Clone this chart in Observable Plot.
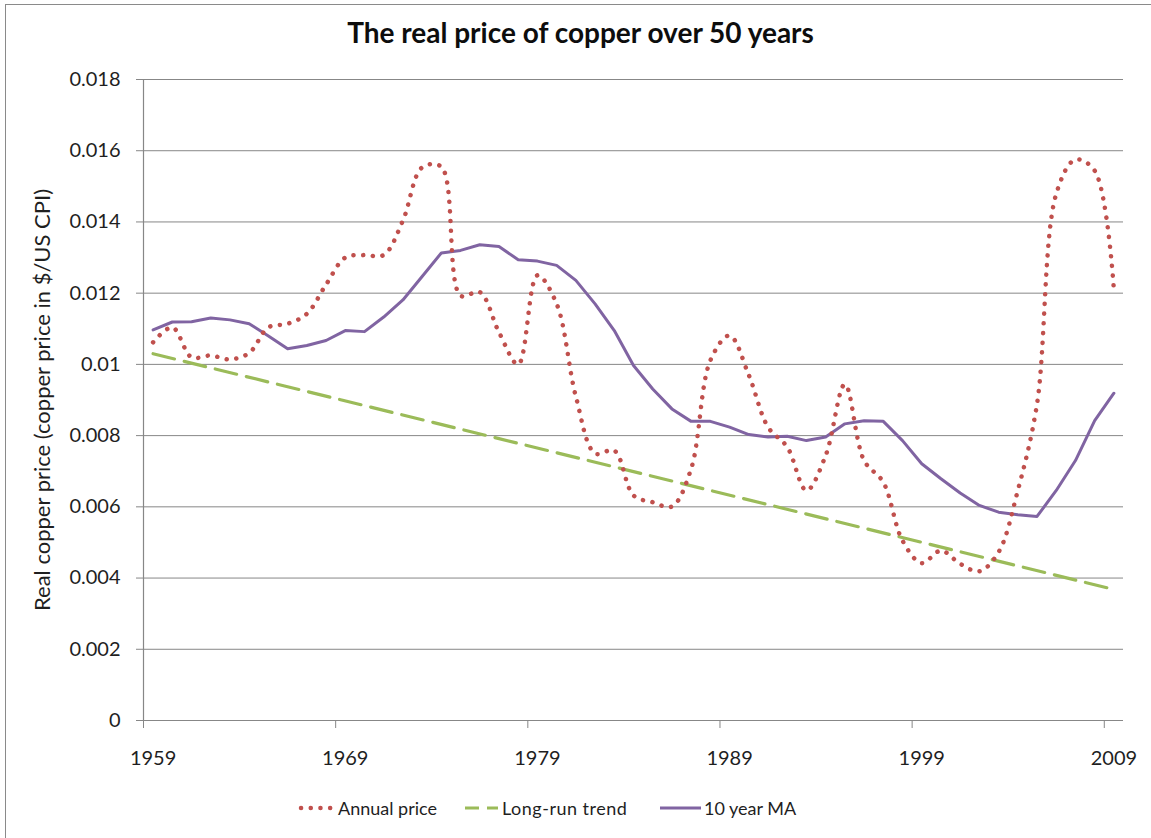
<!DOCTYPE html>
<html>
<head>
<meta charset="utf-8">
<script src="https://cdn.jsdelivr.net/npm/d3@7"></script>
<script src="https://cdn.jsdelivr.net/npm/@observablehq/plot@0.6"></script>
<style>
  html, body { margin: 0; padding: 0; background: #fff; }
  body { width: 1151px; height: 838px; position: relative; overflow: hidden; font-family: Lato, "Open Sans", sans-serif; color: #1f1f1f; }
  #frame { position: absolute; left: 5px; top: 4px; width: 1300px; height: 1000px; border-left: 1.5px solid #8a8a8a; border-top: 1.5px solid #8a8a8a; }
  #title { position: absolute; top: 15px; left: 0; width: 1161px; text-align: center; font-weight: bold; font-size: 28px; color: #0d0d0d; }
  #chart { position: absolute; left: 0; top: 60px; }
  .leg { position: absolute; top: 796px; height: 24px; display: flex; align-items: center; font-size: 18px; color: #1f1f1f; white-space: nowrap; }
  .leg svg { display: block; margin-right: 2px; }
</style>
</head>
<body>
<div id="frame"></div>
<div id="title">The real price of copper over 50 years</div>
<div id="chart"></div>
<div class="leg" style="left:298px"><svg width="38" height="10"><line x1="3" y1="5" x2="36" y2="5" stroke="#C0504D" stroke-width="4.5" stroke-linecap="round" stroke-dasharray="0.1 9.6"/></svg><span>Annual price</span></div>
<div class="leg" style="left:465px"><svg width="35" height="10"><line x1="0" y1="5" x2="33" y2="5" stroke="#9BBB59" stroke-width="3.2" stroke-dasharray="14 8"/></svg><span style="letter-spacing:0.5px">Long-run trend</span></div>
<div class="leg" style="left:660px"><svg width="42" height="10"><line x1="0" y1="5" x2="41" y2="5" stroke="#8064A2" stroke-width="3"/></svg><span>10 year MA</span></div>
<script>
const years = [1959,1960,1961,1962,1963,1964,1965,1966,1967,1968,
  1969,1970,1971,1972,1973,1974,1975,1976,1977,1978,
  1979,1980,1981,1982,1983,1984,1985,1986,1987,1988,
  1989,1990,1991,1992,1993,1994,1995,1996,1997,1998,
  1999,2000,2001,2002,2003,2004,2005,2006,2007,2008,2009];

const annualPrice = [0.01062,0.01104,0.0102,0.01025,0.01014,0.01032,0.01104,0.01114,0.01142,0.01224,
  0.0130,0.01307,0.01307,0.01404,0.01553,0.01555,0.01193,0.01203,0.0109,0.0100,
  0.0125,0.0117,0.0091,0.0075,0.00758,0.00632,0.00613,0.00601,0.00707,0.01011,
  0.01081,0.0097,0.00824,0.00768,0.00646,0.00744,0.00944,0.0073,0.00669,0.00505,
  0.00442,0.00477,0.0044,0.00419,0.00473,0.00646,0.00889,0.01479,0.01575,0.01544,0.01209];

const movingAvg10 = [0.01097,0.01119,0.0112,0.0113,0.01125,0.01114,0.0108,0.01044,0.01053,0.01067,
  0.01095,0.01092,0.01133,0.01181,0.01247,0.01313,0.0132,0.01336,0.01331,0.01294,
  0.0129,0.01278,0.01236,0.0117,0.01095,0.00997,0.00931,0.00875,0.0084,0.0084,
  0.00824,0.00803,0.00796,0.00798,0.00786,0.00796,0.00833,0.00842,0.0084,0.00786,
  0.00721,0.00679,0.00639,0.00604,0.00585,0.00578,0.00573,0.00646,0.0073,0.00842,0.00919];

const trendYears = [1959, 2009];
const trendValues = [0.0103, 0.00368];

const yTicks = [0,0.002,0.004,0.006,0.008,0.01,0.012,0.014,0.016,0.018];
const xLabelYears = [1959,1969,1979,1989,1999,2009];
const xTickBounds = [1958.5,1968.5,1978.5,1988.5,1998.5,2008.5];
const yLabel = "Real copper price (copper price in $/US CPI)";

const annualData = years.map((y, i) => ({year: y, value: annualPrice[i]}));
const maData = years.map((y, i) => ({year: y, value: movingAvg10[i]}));
const trendData = trendYears.map((y, i) => ({year: y, value: trendValues[i]}));

const gray = "#878787";
const textColor = "#1f1f1f";

const chart = Plot.plot({
  width: 1151,
  height: 710,
  marginTop: 19,
  marginBottom: 50,
  marginLeft: 143,
  marginRight: 28,
  style: {fontFamily: "Lato, 'Open Sans', sans-serif", fontSize: "20px", color: textColor, background: "transparent"},
  x: {domain: [1958.5, 2009.5]},
  y: {domain: [0, 0.018]},
  marks: [
    Plot.gridY(yTicks.slice(1), {stroke: gray, strokeOpacity: 1, strokeWidth: 1}),
    Plot.ruleY([0], {stroke: gray, strokeWidth: 1.2}),
    Plot.ruleX([1958.5], {stroke: gray, strokeWidth: 1.2}),
    Plot.axisY({ticks: yTicks, tickSize: 7, tickPadding: 16, stroke: gray, fill: textColor, fontSize: 20,
      tickFormat: d => String(+d.toFixed(3)), label: null}),
    Plot.axisX({ticks: xTickBounds, tickSize: 8, stroke: gray, tickFormat: () => "", label: null}),
    Plot.axisX({ticks: xLabelYears, tickSize: 0, tickPadding: 30, fill: textColor, fontSize: 20,
      tickFormat: d => String(d), label: null}),
    Plot.text([yLabel], {frameAnchor: "left", dx: -101, rotate: -90, textAnchor: "middle",
      fontSize: 22, fill: textColor, text: d => d}),
    Plot.line(trendData, {x: "year", y: "value", stroke: "#9BBB59", strokeWidth: 3.2, strokeDasharray: "22 10"}),
    Plot.line(maData, {x: "year", y: "value", stroke: "#8064A2", strokeWidth: 3, strokeLinejoin: "round"}),
    Plot.line(annualData, {x: "year", y: "value", stroke: "#C0504D", strokeWidth: 4.5, curve: "catmull-rom",
      strokeDasharray: "0.1 9.6", strokeLinecap: "round"})
  ]
});
document.getElementById("chart").appendChild(chart);
</script>
</body>
</html>
